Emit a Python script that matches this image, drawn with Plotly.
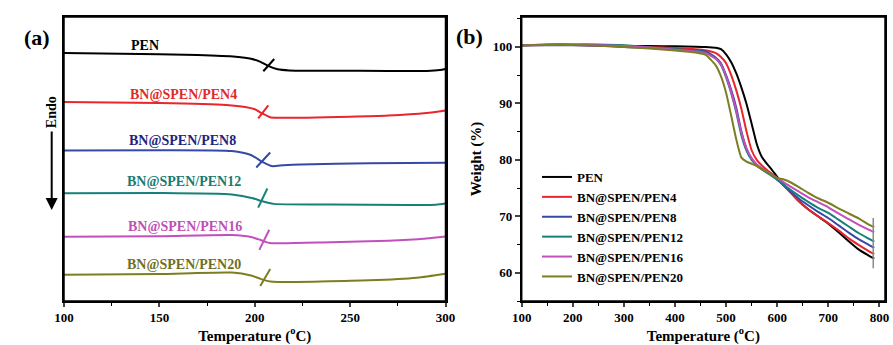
import plotly.graph_objects as go

# ---------------- Panel (a): DSC curves (arbitrary offset heat-flow units) ----------------
names = ["PEN", "BN@SPEN/PEN4", "BN@SPEN/PEN8", "BN@SPEN/PEN12", "BN@SPEN/PEN16", "BN@SPEN/PEN20"]
line_colors = ["#000000", "#e8262b", "#3648a8", "#17807a", "#c150bd", "#7d7d22"]
label_colors = ["#000000", "#e02a2a", "#23237e", "#1a7a70", "#c050b4", "#6f6f1e"]

dsc_T_pen = [100, 130, 170, 190, 198, 203, 207, 212, 218, 240, 270, 290, 297, 300]
dsc_H_pen = [8.73, 8.71, 8.66, 8.60, 8.53, 8.42, 8.28, 8.16, 8.12, 8.11, 8.10, 8.10, 8.13, 8.17]
dsc_T_4 = [100, 150, 185, 195, 200, 204, 208, 212, 250, 270, 290, 300]
dsc_H_4 = [7.01, 6.97, 6.90, 6.83, 6.75, 6.60, 6.47, 6.45, 6.49, 6.53, 6.62, 6.71]
dsc_T_8 = [100, 150, 188, 198, 204, 209, 215, 224, 260, 300]
dsc_H_8 = [5.30, 5.31, 5.28, 5.14, 4.90, 4.75, 4.78, 4.81, 4.85, 4.87]
dsc_T_12 = [100, 150, 188, 199, 204, 210, 240, 280, 295, 300]
dsc_H_12 = [3.79, 3.80, 3.75, 3.62, 3.51, 3.42, 3.40, 3.38, 3.39, 3.43]
dsc_T_16 = [100, 150, 188, 198, 203, 208, 240, 270, 290, 300]
dsc_H_16 = [2.26, 2.28, 2.32, 2.25, 2.15, 2.04, 2.07, 2.12, 2.20, 2.27]
dsc_T_20 = [100, 150, 188, 198, 203, 208, 212, 260, 285, 300]
dsc_H_20 = [0.92, 0.95, 1.00, 0.90, 0.78, 0.69, 0.67, 0.73, 0.82, 0.96]

dsc_T = [dsc_T_pen, dsc_T_4, dsc_T_8, dsc_T_12, dsc_T_16, dsc_T_20]
dsc_H = [dsc_H_pen, dsc_H_4, dsc_H_8, dsc_H_12, dsc_H_16, dsc_H_20]

# Tg marker segments (start/end temperature and heat-flow)
tg_T0 = [204.5, 201.8, 200.8, 201.8, 202.4, 202.9]
tg_T1 = [210.2, 207.1, 208.1, 206.6, 207.6, 208.1]
tg_H0 = [8.09, 6.43, 4.70, 3.29, 1.80, 0.53]
tg_H1 = [8.52, 6.89, 5.23, 3.96, 2.51, 1.13]

# curve label positions
lab_T = [142.5, 162.5, 162.3, 163.0, 163.5, 163.0]
lab_H = [9.01, 7.28, 5.65, 4.20, 2.63, 1.27]

# ---------------- Panel (b): TGA curves ----------------
tga_T = [100, 150, 200, 250, 300, 350, 400, 440, 460, 480, 490, 500, 510, 520, 530, 540,
         550, 560, 570, 580, 590, 600, 610, 620, 640, 660, 680, 700, 720, 740, 760, 780, 790]
tga_pen = [100.3, 100.4, 100.4, 100.3, 100.2, 100.15, 100.1, 100.05, 100.0, 99.85, 99.6, 98.7,
           97.3, 95.3, 92.8, 89.9, 86.4, 82.8, 80.5, 79.3, 78.2, 77.0, 75.9, 74.9, 72.9, 71.3,
           70.0, 68.7, 67.2, 65.6, 64.1, 63.0, 62.5]
tga_4 = [100.3, 100.35, 100.35, 100.25, 100.1, 99.95, 99.8, 99.6, 99.4, 98.9, 98.2, 97.1,
         95.0, 92.3, 89.0, 85.0, 81.7, 80.0, 79.0, 78.2, 77.5, 76.7, 75.7, 74.8, 72.9, 71.3,
         70.0, 68.8, 67.5, 66.1, 64.9, 63.8, 63.3]
tga_8 = [100.3, 100.3, 100.3, 100.2, 100.0, 99.8, 99.6, 99.4, 99.2, 98.1, 97.1, 95.0,
         92.4, 89.2, 85.0, 82.0, 80.2, 79.1, 78.4, 77.8, 77.2, 76.5, 75.7, 74.9, 73.3, 72.0,
         70.8, 69.7, 68.4, 67.1, 65.9, 64.9, 64.4]
tga_12 = [100.3, 100.45, 100.45, 100.45, 100.3, 99.9, 99.6, 99.3, 99.0, 97.9, 96.8, 94.6,
          91.8, 88.4, 84.3, 81.6, 80.0, 79.0, 78.3, 77.7, 77.1, 76.5, 75.8, 75.1, 73.8, 72.6,
          71.5, 70.6, 69.4, 68.2, 67.0, 66.0, 65.5]
tga_16 = [100.3, 100.35, 100.35, 100.3, 100.15, 99.9, 99.5, 99.2, 98.9, 97.9, 96.9, 94.8,
          92.0, 88.7, 84.8, 82.0, 80.3, 79.2, 78.5, 77.9, 77.3, 76.8, 76.2, 75.6, 74.5, 73.4,
          72.5, 71.6, 70.5, 69.5, 68.5, 67.6, 67.2]
tga_20 = [100.3, 100.35, 100.35, 100.2, 100.0, 99.7, 99.35, 99.0, 98.6, 96.7, 94.8, 91.9,
          87.8, 83.6, 80.4, 79.7, 79.3, 78.9, 78.4, 77.9, 77.3, 76.8, 76.6, 76.3, 75.3, 74.2,
          73.2, 72.4, 71.4, 70.5, 69.6, 68.5, 68.1]
tga_W = [tga_pen, tga_4, tga_8, tga_12, tga_16, tga_20]

# gray end-marker line
end_T = [788, 788]
end_W = [60.8, 69.7]

W, H = 893, 345
FONT = '"Times New Roman", "Liberation Serif", serif'

fig = go.Figure()

for i in range(6):
    fig.add_trace(go.Scatter(x=dsc_T[i], y=dsc_H[i], mode="lines", line=dict(color=line_colors[i], width=2, shape="spline", smoothing=0.6),
                             showlegend=False, xaxis="x", yaxis="y", hoverinfo="skip"))
    fig.add_trace(go.Scatter(x=[tg_T0[i], tg_T1[i]], y=[tg_H0[i], tg_H1[i]], mode="lines",
                             line=dict(color=line_colors[i], width=2), showlegend=False,
                             xaxis="x", yaxis="y", hoverinfo="skip"))

for i in range(6):
    fig.add_trace(go.Scatter(x=tga_T, y=tga_W[i], mode="lines", name=names[i],
                             line=dict(color=line_colors[i], width=2, shape="spline", smoothing=0.5),
                             xaxis="x2", yaxis="y2"))
fig.add_trace(go.Scatter(x=end_T, y=end_W, mode="lines", line=dict(color="#8a8a8a", width=1.5),
                         showlegend=False, xaxis="x2", yaxis="y2", hoverinfo="skip"))

annotations = []
for i in range(6):
    annotations.append(dict(x=lab_T[i], y=lab_H[i], xref="x", yref="y", text="<b>%s</b>" % names[i], showarrow=False,
                            font=dict(family=FONT, size=14, color=label_colors[i])))

annotations += [
    dict(x=22 / W, y=1 - 23 / H, xref="paper", yref="paper", text="<b>(a)</b>", showarrow=False,
         font=dict(family=FONT, size=22, color="black")),
    dict(x=469 / W, y=1 - 22 / H, xref="paper", yref="paper", text="<b>(b)</b>", showarrow=False,
         font=dict(family=FONT, size=22, color="black")),
    dict(x=51.7 / W, y=1 - 112.5 / H, xref="paper", yref="paper", text="<b>Endo</b>", textangle=-90, showarrow=False,
         xanchor="center", yanchor="middle", font=dict(family=FONT, size=14, color="black")),
    dict(x=51.7 / W, y=1 - 210 / H, xref="paper", yref="paper", text="", showarrow=True,
         ax=0, ay=-80, arrowhead=2, arrowsize=1.2, arrowwidth=2, arrowcolor="black", standoff=0),
]

frame = dict(type="rect", x0=0, x1=1, y0=0, y1=1, line=dict(color="black", width=1.5), layer="above")
shapes = [dict(frame, xref="x domain", yref="y domain"), dict(frame, xref="x2 domain", yref="y2 domain")]

tickfont = dict(family=FONT, size=13, color="black", weight="bold")
titlefont = dict(family=FONT, size=15, color="black", weight="bold")

fig.update_layout(
    width=W, height=H, autosize=False,
    margin=dict(l=0, r=0, t=0, b=0, autoexpand=False),
    paper_bgcolor="white", plot_bgcolor="white",
    font=dict(family=FONT, color="black"),
    xaxis=dict(domain=[64 / W, 445.5 / W], range=[100, 300], anchor="y", automargin=False,
               tickvals=[100, 150, 200, 250, 300], ticks="outside", ticklen=4, tickwidth=1.5,
               minor=dict(dtick=25, tick0=100, ticks="outside", ticklen=3, tickwidth=1.2, tickcolor="black"),
               showline=True, linewidth=1.5, linecolor="black", mirror=True, showgrid=False, zeroline=False,
               tickfont=tickfont, title=dict(text="<b>Temperature (<sup>o</sup>C)</b>", font=titlefont, standoff=4)),
    yaxis=dict(domain=[1 - 301 / H, 1 - 17 / H], range=[0, 10], anchor="x", automargin=False,
               showticklabels=False, ticks="", showline=True, linewidth=1.5, linecolor="black", mirror=True,
               showgrid=False, zeroline=False),
    xaxis2=dict(domain=[521.7 / W, 885 / W], range=[100, 811], anchor="y2", automargin=False,
                dtick=100, tick0=100, ticks="outside", ticklen=4, tickwidth=1.5,
                minor=dict(dtick=50, tick0=100, ticks="outside", ticklen=3, tickwidth=1.2, tickcolor="black"),
                showline=True, linewidth=1.5, linecolor="black", mirror=True, showgrid=False, zeroline=False,
                tickfont=tickfont, title=dict(text="<b>Temperature (<sup>o</sup>C)</b>", font=titlefont, standoff=4)),
    yaxis2=dict(domain=[1 - 301 / H, 1 - 17 / H], range=[55, 105.3], anchor="x2", automargin=False,
                tickvals=[60, 70, 80, 90, 100], ticks="outside", ticklen=5, tickwidth=1.5,
                minor=dict(dtick=5, tick0=55, ticks="outside", ticklen=3, tickwidth=1.2, tickcolor="black"),
                showline=True, linewidth=1.5, linecolor="black", mirror=True, showgrid=False, zeroline=False,
                tickfont=tickfont, title=dict(text="<b>Weight (%)</b>", font=titlefont, standoff=8)),
    legend=dict(x=537 / W, y=1 - 162 / H, xanchor="left", yanchor="top", bgcolor="rgba(0,0,0,0)",
                font=dict(family=FONT, size=13, color="black", weight="bold"), tracegroupgap=0),
    annotations=annotations,
    shapes=shapes,
)

fig.write_html("out.html", config={"displayModeBar": False},
               post_script="document.body.style.margin='0';document.body.style.padding='0';")
